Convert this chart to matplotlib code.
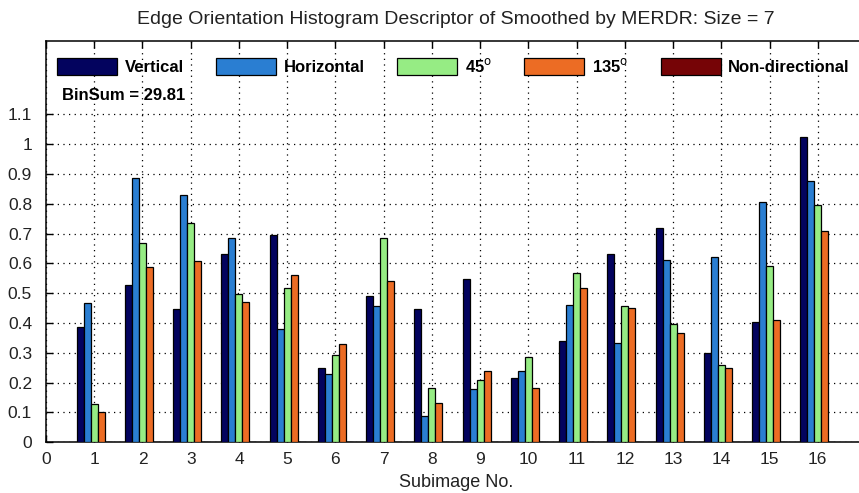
import numpy as np
import matplotlib
matplotlib.use("Agg")
import matplotlib.pyplot as plt

plt.rcParams['font.family'] = ['Liberation Sans', 'DejaVu Sans']

subimages = np.arange(1, 17)
vertical = [0.386, 0.528, 0.447, 0.630, 0.695, 0.250, 0.492, 0.446,
            0.548, 0.215, 0.341, 0.630, 0.720, 0.300, 0.405, 1.023]
horizontal = [0.466, 0.887, 0.831, 0.685, 0.380, 0.228, 0.456, 0.087,
              0.179, 0.240, 0.462, 0.334, 0.613, 0.623, 0.805, 0.877]
deg45 = [0.127, 0.669, 0.736, 0.497, 0.517, 0.294, 0.685, 0.183,
         0.209, 0.285, 0.568, 0.457, 0.397, 0.258, 0.593, 0.795]
deg135 = [0.100, 0.588, 0.608, 0.472, 0.562, 0.330, 0.542, 0.132,
          0.240, 0.183, 0.518, 0.452, 0.366, 0.249, 0.410, 0.709]
nondir = [0.0] * 16

series = [vertical, horizontal, deg45, deg135, nondir]
names = ['Vertical', 'Horizontal', '45$^{\\mathrm{o}}$', '135$^{\\mathrm{o}}$', 'Non-directional']
colors = ['#03035e', '#2a7ed2', '#96ec84', '#ec6c24', '#760406']
ytick_vals = np.arange(0, 1.15, 0.1)
ytick_text = ['0', '0.1', '0.2', '0.3', '0.4', '0.5', '0.6', '0.7', '0.8', '0.9', '1', '1.1']

fig = plt.figure(figsize=(8.59, 4.93), dpi=100)
ax = fig.add_axes([46 / 859, 1 - 442.3 / 493, 820 / 859, 401 / 493])

w = 0.145
bars = []
for i, (vals, nm, c) in enumerate(zip(series, names, colors)):
    b = ax.bar(subimages + (i - 2) * w, vals, width=w, color=c,
               edgecolor='black', linewidth=0.9, label=nm, zorder=3)
    bars.append(b)

ax.set_xlim(0, 17)
ax.set_ylim(0, 1.345)
ax.set_xticks(np.arange(0, 17))
ax.set_yticks(ytick_vals)
ax.set_yticklabels(ytick_text)
ax.grid(True, color='black', linestyle=(0, (1, 3.5)), linewidth=0.9, zorder=1)
ax.tick_params(direction='in', top=True, right=True, length=5, width=1,
               labelsize=12.5, labelcolor='#222222')
ax.tick_params(axis='y', pad=10)
ax.tick_params(axis='x', pad=7)
for s in ax.spines.values():
    s.set_linewidth(1.1)

ax.set_xlabel('Subimage No.', fontsize=13, color='#222222', labelpad=5)
fig.text(456 / 859, 1 - 20 / 493, 'Edge Orientation Histogram Descriptor of Smoothed by MERDR: Size = 7',
         ha='center', va='center', fontsize=14, color='#222222')

ax.legend(loc='upper left', bbox_to_anchor=(57 / 859, 1 - 57 / 493),
          bbox_transform=fig.transFigure, ncol=5, frameon=False,
          borderpad=0, borderaxespad=0, handlelength=3.6, handleheight=1.14,
          handletextpad=0.45, columnspacing=1.95,
          prop={'weight': 'bold', 'size': 12})
fig.text(62 / 859, 1 - 100 / 493, 'BinSum = 29.81', fontsize=12,
         fontweight='bold', va='baseline', ha='left')

fig.savefig('out.png', dpi=100)
